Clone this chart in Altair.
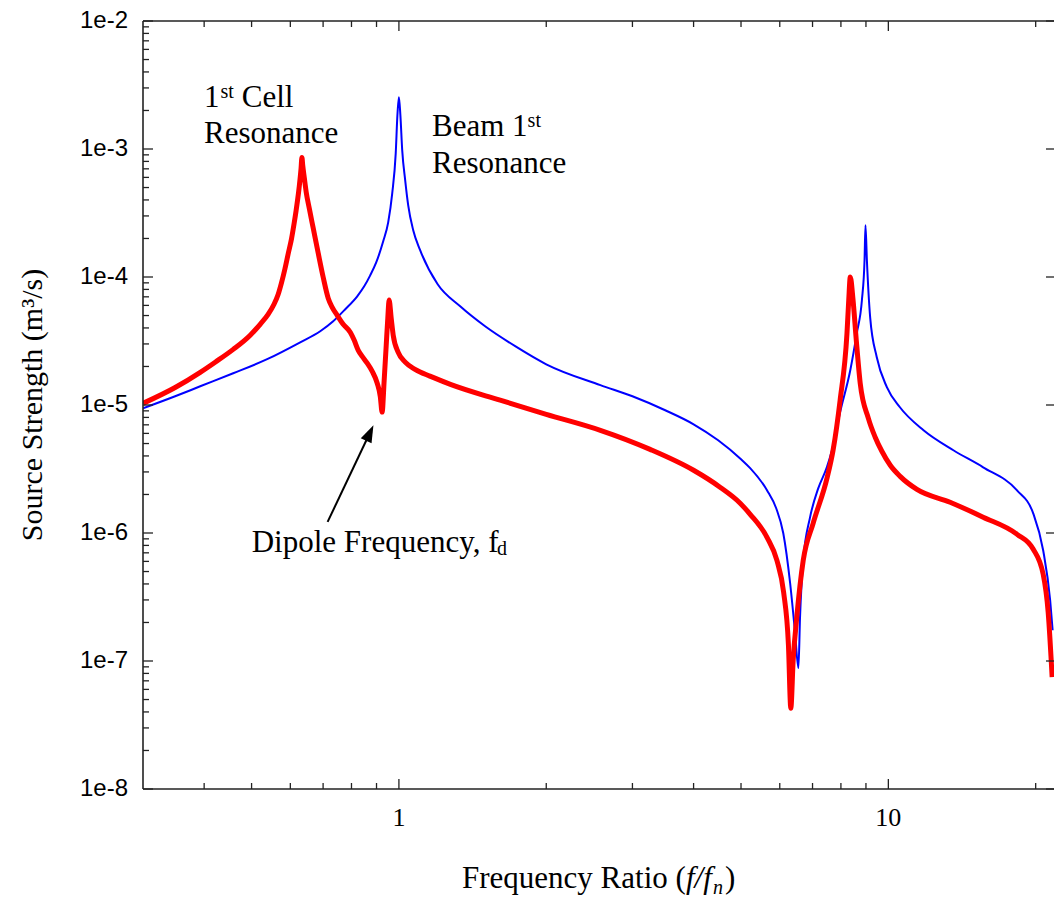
import altair as alt
import pandas as pd

# ---- data ----
beam_f = [0.300, 0.349, 0.3927, 0.4586, 0.538, 0.6285, 0.6906, 0.734, 0.777, 0.8219,
          0.8494, 0.8737, 0.8987, 0.9288, 0.9508, 0.969, 0.9851, 0.9929, 1.0, 1.007,
          1.0156, 1.030, 1.0447, 1.0696, 1.105, 1.20, 1.334, 1.50, 1.728, 2.0,
          2.58, 3.0, 3.5, 4.0, 4.49, 5.0, 5.22, 5.65, 5.90, 6.10,
          6.30, 6.45, 6.55, 6.60, 6.70, 6.92, 7.19, 7.49, 7.67, 7.97,
          8.36, 8.62, 8.83, 8.94, 8.98, 9.04, 9.18, 9.47, 9.93, 10.56,
          11.8, 13.58, 15.62, 18.3, 19.76, 20.72, 21.41, 21.66]
beam_v = [9.42e-6, 1.17e-5, 1.40e-5, 1.77e-5, 2.28e-5, 3.09e-5, 3.77e-5, 4.51e-5, 5.6e-5, 7.07e-5,
          8.46e-5, 1.03e-4, 1.30e-4, 1.90e-4, 2.67e-4, 4.5e-4, 9.25e-4, 1.83e-3, 2.54e-3, 1.83e-3,
          9.8e-4, 5.69e-4, 3.63e-4, 2.32e-4, 1.62e-4, 8.77e-5, 5.9e-5, 4.12e-5, 2.88e-5, 2.08e-5,
          1.43e-5, 1.17e-5, 9.1e-6, 7.07e-6, 5.3e-6, 3.77e-6, 3.21e-6, 2.16e-6, 1.56e-6, 9.95e-7,
          4.05e-7, 1.64e-7, 8.8e-8, 2.2e-7, 6.1e-7, 1.33e-6, 2.23e-6, 3.27e-6, 4.43e-6, 8.8e-6,
          1.87e-5, 3.63e-5, 6.58e-5, 1.35e-4, 2.54e-4, 1.35e-4, 4.84e-5, 2.36e-5, 1.38e-5, 9.6e-6,
          6.35e-6, 4.43e-6, 3.26e-6, 2.16e-6, 1.43e-6, 7.3e-7, 2.98e-7, 1.74e-7]

cell_f = [0.300, 0.349, 0.3927, 0.4213, 0.4586, 0.4968, 0.5206, 0.5404, 0.5553, 0.5665,
          0.5755, 0.5847, 0.5940, 0.6035, 0.6108, 0.6165, 0.6250, 0.6310, 0.6336, 0.636,
          0.641, 0.6466, 0.6559, 0.6683, 0.6842, 0.7003, 0.7170, 0.7307, 0.7481, 0.7694,
          0.7954, 0.8104, 0.8259, 0.8414, 0.8614, 0.8820, 0.9030, 0.916, 0.924, 0.933,
          0.942, 0.949, 0.955, 0.9644, 0.9736, 0.9967, 1.030, 1.079, 1.157, 1.274,
          1.61, 2.0, 2.58, 3.26, 4.00, 4.53, 4.98, 5.22, 5.65, 5.92,
          6.11, 6.25, 6.32, 6.39, 6.50, 6.70, 7.02, 7.50, 7.71, 7.97,
          8.23, 8.30, 8.36, 8.47, 8.60, 8.76, 9.10, 9.40, 9.70, 10.09,
          10.57, 11.44, 13.37, 15.62, 18.3, 19.76, 20.72, 21.21, 21.61]
cell_v = [1.03e-5, 1.37e-5, 1.80e-5, 2.16e-5, 2.72e-5, 3.51e-5, 4.27e-5, 5.1e-5, 6.1e-5, 7.3e-5,
          9.0e-5, 1.15e-4, 1.52e-4, 2.0e-4, 2.62e-4, 3.3e-4, 4.9e-4, 7.0e-4, 8.6e-4, 7.47e-4,
          5.9e-4, 4.59e-4, 3.44e-4, 2.4e-4, 1.53e-4, 9.95e-5, 6.83e-5, 5.8e-5, 5.02e-5, 4.27e-5,
          3.7e-5, 3.2e-5, 2.67e-5, 2.4e-5, 2.12e-5, 1.83e-5, 1.48e-5, 1.17e-5, 8.8e-6, 1.56e-5,
          2.92e-5, 4.75e-5, 6.6e-5, 4.75e-5, 3.5e-5, 2.58e-5, 2.16e-5, 1.9e-5, 1.68e-5, 1.45e-5,
          1.09e-5, 8.45e-6, 6.34e-6, 4.5e-6, 3.09e-6, 2.28e-6, 1.71e-6, 1.40e-6, 9.25e-7, 6.1e-7,
          3.44e-7, 1.33e-7, 4.27e-8, 1.01e-7, 2.2e-7, 6.1e-7, 1.19e-6, 2.72e-6, 4.43e-6, 1.09e-5,
          3.6e-5, 6.6e-5, 1.0e-4, 6.6e-5, 3.2e-5, 1.48e-5, 7.9e-6, 5.6e-6, 4.35e-6, 3.38e-6,
          2.77e-6, 2.19e-6, 1.74e-6, 1.33e-6, 9.8e-7, 7.5e-7, 4.75e-7, 2.4e-7, 7.5e-8]

y_major = [1e-8, 1e-7, 1e-6, 1e-5, 1e-4, 1e-3, 1e-2]
y_labels = ["1e-8", "1e-7", "1e-6", "1e-5", "1e-4", "1e-3", "1e-2"]
y_minor = [m * d for d in y_major[:-1] for m in range(2, 10)]
x_major = [1, 10]
x_labels = ["1", "10"]
x_minor = [0.4, 0.5, 0.6, 0.7, 0.8, 0.9, 2, 3, 4, 5, 6, 7, 8, 9, 20]

arrow_f = [0.715, 0.872]
arrow_v = [1.22e-6, 6.04e-6]

# ---- layout ----
W, H = 911, 768
AX = "#222222"
SERIF = "Liberation Serif"
SANS = "Liberation Sans"

xs = alt.Scale(type="log", domain=[0.3, 21.8], nice=False)
ys = alt.Scale(type="log", domain=[1e-8, 1e-2], nice=False)

beam = alt.Chart(pd.DataFrame({"f": beam_f, "v": beam_v})).mark_line(
    color="#0000FF", strokeWidth=2, clip=True, interpolate="monotone"
).encode(x=alt.X("f:Q", scale=xs, axis=None), y=alt.Y("v:Q", scale=ys, axis=None))

cell = alt.Chart(pd.DataFrame({"f": cell_f, "v": cell_v})).mark_line(
    color="#FF0000", strokeWidth=5, clip=True, interpolate="monotone"
).encode(x=alt.X("f:Q", scale=xs, axis=None), y=alt.Y("v:Q", scale=ys, axis=None))


def one():
    return alt.Data(values=[{}])


def vticks(vals, y0, y1):
    return alt.Chart(pd.DataFrame({"f": vals})).mark_rule(color=AX, strokeWidth=1.3).encode(
        x=alt.X("f:Q", scale=xs, axis=None), y=alt.value(y0), y2=alt.value(y1))


def hticks(vals, x0, x1):
    return alt.Chart(pd.DataFrame({"v": vals})).mark_rule(color=AX, strokeWidth=1.3).encode(
        y=alt.Y("v:Q", scale=ys, axis=None), x=alt.value(x0), x2=alt.value(x1))


frame_left = alt.Chart(one()).mark_rule(color=AX, strokeWidth=1.6).encode(
    x=alt.value(0), y=alt.value(0), y2=alt.value(H))
frame_bottom = alt.Chart(one()).mark_rule(color=AX, strokeWidth=1.6).encode(
    x=alt.value(0), x2=alt.value(W), y=alt.value(H))
frame_top = alt.Chart(one()).mark_rule(color=AX, strokeWidth=1.6).encode(
    x=alt.value(0), x2=alt.value(W), y=alt.value(0))

ticks = [
    hticks(y_major, 0, 10), hticks(y_minor, 0, 6), hticks(y_major, W - 8, W),
    vticks(x_major, H, H - 10), vticks(x_minor, H, H - 6),
    vticks(x_major, 0, 10), vticks(x_minor, 0, 6),
]

y_tick_labels = alt.Chart(pd.DataFrame({"v": y_major, "lab": y_labels})).mark_text(
    font=SANS, fontSize=24, align="right", baseline="middle", color="black"
).encode(y=alt.Y("v:Q", scale=ys, axis=None), x=alt.value(-15), text="lab:N")

x_tick_labels = alt.Chart(pd.DataFrame({"f": x_major, "lab": x_labels})).mark_text(
    font=SERIF, fontSize=26, align="center", baseline="alphabetic", color="black"
).encode(x=alt.X("f:Q", scale=xs, axis=None), y=alt.value(H + 37), text="lab:N")


def label(text, x, y, size=31, style="normal", align="left", angle=0, baseline="alphabetic"):
    return alt.Chart(one()).mark_text(
        text=text, font=SERIF, fontSize=size, fontStyle=style, align=align,
        baseline=baseline, angle=angle, color="black"
    ).encode(x=alt.value(x), y=alt.value(y))


TB = 867  # x-title baseline (plot coordinates)
texts = [
    # y title
    label("Source Strength (m³/s)", -110, 384, size=30, align="center", angle=270, baseline="middle"),
    # x title
    label("Frequency Ratio (", 319, TB),
    label("f/f", 543, TB, style="italic"),
    label("n", 570, TB + 6, size=20, style="italic"),
    label(")", 582, TB),
    # 1st cell resonance
    label("1", 61, 86),
    label("st", 77.5, 77, size=20),
    label("Cell", 98.7, 86),
    label("Resonance", 61, 122),
    # beam 1st resonance
    label("Beam 1", 289, 115),
    label("st", 384.6, 106, size=20),
    label("Resonance", 289, 152),
    # dipole
    label("Dipole Frequency, f", 108.7, 530.7),
    label("d", 354, 534, size=20),
]

arrow_df = pd.DataFrame({"f": [arrow_f[0]], "v": [arrow_v[0]], "f2": [arrow_f[1]], "v2": [arrow_v[1]]})
arrow_line = alt.Chart(arrow_df).mark_rule(color="black", strokeWidth=2).encode(
    x=alt.X("f:Q", scale=xs, axis=None), y=alt.Y("v:Q", scale=ys, axis=None),
    x2="f2:Q", y2="v2:Q")
arrow_head = alt.Chart(pd.DataFrame({"f": [arrow_f[1]], "v": [arrow_v[1]]})).mark_point(
    shape="M0,-1L0.7,1L-0.7,1Z", size=289, angle=25.4, filled=True, color="black", opacity=1
).encode(x=alt.X("f:Q", scale=xs, axis=None), y=alt.Y("v:Q", scale=ys, axis=None))

chart = alt.layer(
    beam, cell, frame_left, frame_bottom, frame_top, *ticks,
    y_tick_labels, x_tick_labels, *texts, arrow_line, arrow_head
).properties(
    width=W, height=H,
    padding={"left": 143, "top": 21, "right": 0, "bottom": 111},
    autosize=alt.AutoSizeParams(type="none"),
    background="white",
).configure_view(stroke=None)

chart.save("out.html", embed_options={"renderer": "svg", "actions": False})
